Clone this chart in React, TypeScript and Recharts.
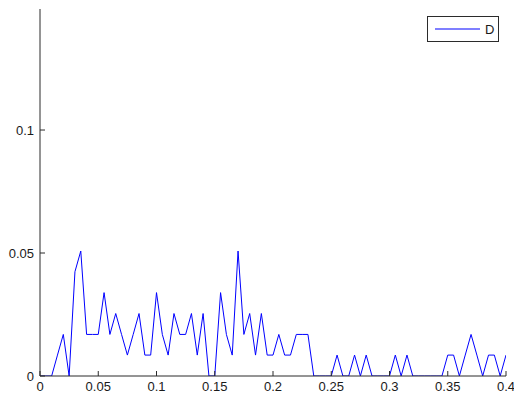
import React from "react";
import { LineChart, Line, XAxis, YAxis, Legend } from "recharts";

const xValues = [
  0, 0.005, 0.01, 0.015, 0.02, 0.025, 0.03, 0.035, 0.04, 0.045,
  0.05, 0.055, 0.06, 0.065, 0.07, 0.075, 0.08, 0.085, 0.09, 0.095,
  0.1, 0.105, 0.11, 0.115, 0.12, 0.125, 0.13, 0.135, 0.14, 0.145,
  0.15, 0.155, 0.16, 0.165, 0.17, 0.175, 0.18, 0.185, 0.19, 0.195,
  0.2, 0.205, 0.21, 0.215, 0.22, 0.225, 0.23, 0.235, 0.24, 0.245,
  0.25, 0.255, 0.26, 0.265, 0.27, 0.275, 0.28, 0.285, 0.29, 0.295,
  0.3, 0.305, 0.31, 0.315, 0.32, 0.325, 0.33, 0.335, 0.34, 0.345,
  0.35, 0.355, 0.36, 0.365, 0.37, 0.375, 0.38, 0.385, 0.39, 0.395,
  0.4,
];

const dValues = [
  0, 0, 0, 0.0085, 0.0169, 0, 0.0424, 0.0508, 0.0169, 0.0169,
  0.0169, 0.0339, 0.0169, 0.0254, 0.0169, 0.0085, 0.0169, 0.0254, 0.0085, 0.0085,
  0.0339, 0.0169, 0.0085, 0.0254, 0.0169, 0.0169, 0.0254, 0.0085, 0.0254, 0,
  0, 0.0339, 0.0169, 0.0085, 0.0508, 0.0169, 0.0254, 0.0085, 0.0254, 0.0085,
  0.0085, 0.0169, 0.0085, 0.0085, 0.0169, 0.0169, 0.0169, 0, 0, 0,
  0, 0.0085, 0, 0, 0.0085, 0, 0.0085, 0, 0, 0,
  0, 0.0085, 0, 0.0085, 0, 0, 0, 0, 0, 0,
  0.0085, 0.0085, 0, 0.0085, 0.0169, 0.0085, 0, 0.0085, 0.0085, 0,
  0.0085,
];

const xTicks = [0, 0.05, 0.1, 0.15, 0.2, 0.25, 0.3, 0.35, 0.4];
const xTickLabels = ["0", "0.05", "0.1", "0.15", "0.2", "0.25", "0.3", "0.35", "0.4"];
const yTicks = [0, 0.05, 0.1];
const yTickLabels = ["0", "0.05", "0.1"];

const seriesName = "D";
const LINE_COLOR = "#0000ff";

const data = xValues.map((x, i) => ({ x, d: dValues[i] }));

const FONT = "'Liberation Sans', Arial, sans-serif";
const AXIS_COLOR = "#2b2b2b";

const XTick = (props: any) => {
  const { x, y, payload } = props;
  const idx = xTicks.indexOf(payload.value);
  const label = idx >= 0 ? xTickLabels[idx] : String(payload.value);
  return (
    <g>
      <line x1={x} y1={y} x2={x} y2={y - 5} stroke={AXIS_COLOR} strokeWidth={1} />
      <text x={x} y={y + 14.5} textAnchor="middle" fontSize={13} fontFamily={FONT} fill="#1a1a1a">
        {label}
      </text>
    </g>
  );
};

const YTick = (props: any) => {
  const { x, y, payload } = props;
  const idx = yTicks.indexOf(payload.value);
  const label = idx >= 0 ? yTickLabels[idx] : String(payload.value);
  return (
    <g>
      <line x1={x} y1={y} x2={x + 5} y2={y} stroke={AXIS_COLOR} strokeWidth={1} />
      <text x={x - 6} y={y + 4.5} textAnchor="end" fontSize={13} fontFamily={FONT} fill="#1a1a1a">
        {label}
      </text>
    </g>
  );
};

const LegendBox = (props: any) => {
  const payload = props.payload || [];
  return (
    <div
      style={{
        width: 72,
        height: 26,
        boxSizing: "border-box",
        border: "1px solid #2b2b2b",
        background: "#fff",
        position: "relative",
        fontFamily: FONT,
      }}
    >
      <svg width={70} height={24} style={{ position: "absolute", left: 0, top: 0, display: "block" }}>
        {payload.map((p: any, i: number) => (
          <g key={i}>
            <line x1={7} y1={12} x2={52} y2={12} stroke={LINE_COLOR} strokeWidth={1.2} />
            <text x={57} y={17} fontSize={13} fontFamily={FONT} fill="#1a1a1a">
              {p.value}
            </text>
          </g>
        ))}
      </svg>
    </div>
  );
};

export default function App() {
  return (
    <div style={{ position: "absolute", left: 0, top: 0, width: 514, height: 393, background: "#fff" }}>
      <LineChart
        width={514}
        height={393}
        data={data}
        margin={{ top: 9, right: 8, bottom: 0, left: 0 }}
      >
        <XAxis
          dataKey="x"
          type="number"
          domain={[0, 0.4]}
          ticks={xTicks}
          tickSize={0}
          tickMargin={0}
          tickLine={false}
          tick={<XTick />}
          height={17}
          axisLine={{ stroke: AXIS_COLOR, strokeWidth: 1 }}
          interval={0}
          allowDataOverflow
        />
        <YAxis
          type="number"
          domain={[0, 0.1492]}
          ticks={yTicks}
          tickSize={0}
          tickMargin={0}
          tickLine={false}
          tick={<YTick />}
          width={40}
          axisLine={{ stroke: AXIS_COLOR, strokeWidth: 1 }}
          interval={0}
          allowDataOverflow
        />
        <Legend
          layout="vertical"
          align="center"
          verticalAlign="middle"
          content={<LegendBox />}
          wrapperStyle={{ left: 427, top: 16, width: 72, height: 26 }}
        />
        <Line
          type="linear"
          dataKey="d"
          name={seriesName}
          stroke={LINE_COLOR}
          strokeWidth={1}
          dot={false}
          activeDot={false}
          isAnimationActive={false}
        />
      </LineChart>
    </div>
  );
}
